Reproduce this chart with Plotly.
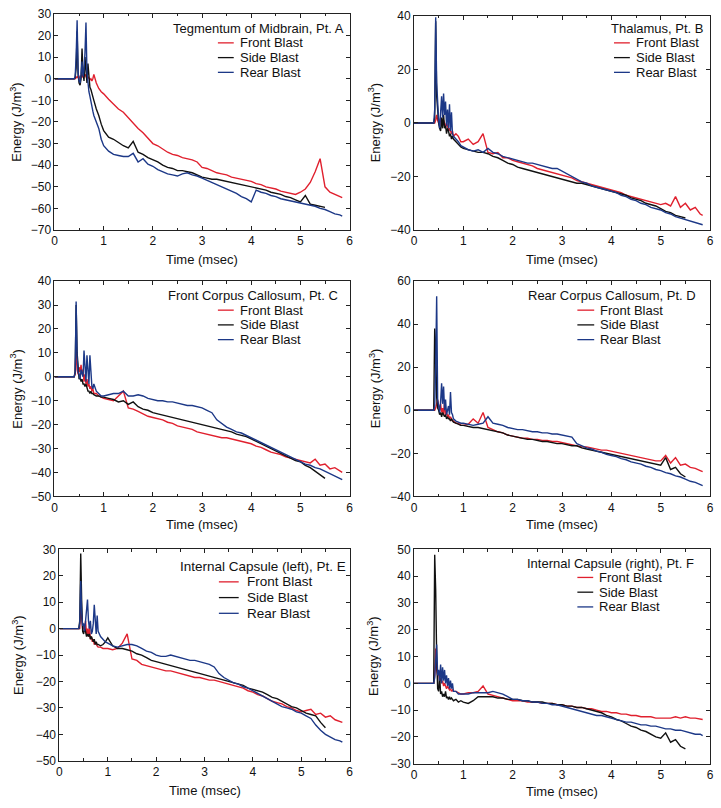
import plotly.graph_objects as go

# ---------------- data ----------------
# common time grid (msec)
T = [0, 0.40, 0.42, 0.44, 0.46, 0.48,
     0.50, 0.52, 0.54, 0.56, 0.58,
     0.60, 0.62, 0.64, 0.66, 0.68,
     0.70, 0.72, 0.74, 0.76, 0.78,
     0.80, 0.85, 0.90, 0.95,
     1.0, 1.1, 1.2, 1.3, 1.4, 1.5, 1.6, 1.7, 1.8, 1.9,
     2.0, 2.1, 2.2, 2.3, 2.4, 2.5, 2.6, 2.7, 2.8, 2.9,
     3.0, 3.1, 3.2, 3.3, 3.4, 3.5, 3.6, 3.7, 3.8, 3.9,
     4.0, 4.1, 4.2, 4.3, 4.4, 4.5, 4.6, 4.7, 4.8, 4.9,
     5.0, 5.1, 5.2, 5.3, 5.4, 5.5, 5.6, 5.7, 5.8, 5.85]

SERIES_NAMES = ["Front Blast", "Side Blast", "Rear Blast"]

PANEL_TITLES = ["Tegmentum of Midbrain, Pt. A", "Thalamus, Pt. B",
                "Front Corpus Callosum, Pt. C", "Rear Corpus Callosum, Pt. D",
                "Internal Capsule (left), Pt. E", "Internal Capsule (right), Pt. F"]

Y_RANGES = [(-70, 30), (-40, 40), (-50, 40), (-40, 60), (-50, 30), (-30, 50)]
Y_DTICKS = [10, 20, 10, 20, 10, 10]
X_TICKS = [0, 1, 2, 3, 4, 5, 6]

A_FRONT = [0, 0, 0, 0.5, 1, 0.5, 1, 0, 1.5, 2, 0.5, 1, 2, 1, 0, 1, 0.5, -0.5, 0, -1, 0, 2, -2, -4.5, -6,
           -7, -9.5, -12, -14, -15.5, -18, -21, -23, -25, -27.5,
           -30, -31, -32.5, -34, -35, -35.5, -36.5, -37, -37.5, -38.5,
           -41, -41.5, -42.5, -43.5, -44, -44.5, -45.5, -46, -46.5, -47,
           -47.5, -48.5, -49, -50, -50.5, -51, -52, -52.5, -53, -53.5,
           -52.5, -51, -48, -43, -37, -50, -52.5, -53.5, -54.5, -55]
A_SIDE = [0, 0, 0.5, 5, 22, 2, -2, -3, 0, 14, 3, -1, 10, 2, -2, 7, -1, -4, -5, -7, -9, -10, -14, -17, -21,
          -24, -27, -28, -29.5, -31, -32, -29, -34, -35, -36.5,
          -37.5, -38.5, -40, -41, -41.5, -42.5, -42.5, -43, -43.5, -44.5,
          -45.5, -46, -46.5, -46.5, -47, -47.5, -48, -48.5, -49, -49.5,
          -50, -50.5, -51, -51.5, -52.5, -53, -53.5, -54.5, -55, -56,
          -57, -54, -58, -58.5, -59, -59.5]
A_REAR = [0, 0, 1, 10, 27, 3, -1, -2, 2, 8, 1, 4, 12, 26, 3, -2, -6, -8, -11, -13, -15, -17, -20, -23, -28,
          -31, -33.5, -35, -35.5, -36, -36, -34.5, -38.5, -37, -39.5,
          -40.5, -42, -43, -44, -44.5, -45, -44, -43.5, -44.5, -45,
          -46, -47, -48, -49, -50, -51, -52, -53, -54.5, -55.5,
          -57, -51.5, -52.5, -53, -54, -54.5, -55.5, -56, -56.5, -57,
          -57.5, -58, -58.5, -59, -60, -60.5, -61.5, -62.5, -63, -63.5]

B_FRONT = [0, 0, 0, 1, 3, 1, 0, -1, 2, 0, -1, 1, 0, -2, 0, -1, -3, -2, -3, -4, -3, -5, -4, -5, -7,
           -7, -6, -8, -7, -4, -11, -11.5, -11, -13, -13,
           -14, -14.5, -15, -15.5, -16, -17, -17.5, -18, -18.5, -19,
           -19.5, -20, -20.5, -21.5, -22, -22.5, -23, -23.5, -24, -24.5,
           -25, -25.5, -26, -27, -27.5, -28, -28.5, -29, -29.5, -30,
           -30.5, -30, -31, -27.5, -31.5, -30, -32.5, -31.5, -34, -34.5]
B_SIDE = [0, 0, 2, 38, 10, 2, 0, -2, -3, 2, -2, 3, -2, -1, -4, -2, -3, -5, -4, -6, -5, -6, -7, -8, -9,
          -9.5, -10, -10.5, -11, -11, -11.5, -12.5, -13, -14, -15,
          -15.5, -16.5, -17, -17.5, -18, -18.5, -19, -19.5, -20, -20.5,
          -21, -21.5, -22, -22.5, -22.5, -23, -23.5, -24, -24.5, -25,
          -25.5, -26, -26.5, -27, -28, -28.5, -29, -30, -30.5, -31,
          -32, -33, -33.5, -34.5, -35, -35.5]
B_REAR = [0, 0, 5, 39.5, 15, 4, 1, -2, 4, 10, 2, 11, 3, 8, -1, 5, -2, 7, -3, 4, -4, -5, -6, -7, -8.5,
          -9, -10, -10.5, -10, -11, -9.5, -11, -11.5, -12.5, -13,
          -13.5, -14, -14.5, -15, -15, -15.5, -16, -16.5, -17, -17,
          -18, -19, -20, -21, -22, -22.5, -23.5, -24, -24.5, -25,
          -25.5, -26, -27, -27.5, -28.5, -29, -30, -30.5, -31.5, -32,
          -32.5, -33.5, -34, -35, -35.5, -36, -36.5, -37, -37.5, -38]

C_FRONT = [0, 0, 1, 14, 3, 1, 4, 2, 5, 1, 3, -2, 1, -3, -1, -4, -3, -5, -4, -6, -5, -7, -7, -8, -8.5,
           -9, -9.5, -10, -8, -6, -13, -13.5, -14.5, -15.5, -16.5,
           -17, -17.5, -18, -19, -19.5, -20.5, -21, -21.5, -22, -23,
           -23.5, -24, -24.5, -25, -25.5, -25.5, -26, -26.5, -27, -27.5,
           -28, -29, -29.5, -30.5, -31.5, -32, -32.5, -33.5, -34, -34.5,
           -35, -35.5, -36, -34.5, -37, -36.5, -38.5, -38, -39.5, -40]
C_SIDE = [0, 0, 2, 30, 10, 2, -1, 0, -2, -1, -3, -3, -4, -3, -5, -6, -6, -7, -6, -7, -7, -7.5, -8, -8, -8.5,
          -8.5, -9, -9.5, -10.5, -10, -11.5, -10.5, -12.5, -13.5, -14,
          -15, -15.5, -16, -16.5, -17, -17.5, -18, -18.5, -19, -19.5,
          -20, -20.5, -21, -21.5, -22, -22.5, -23, -24, -24.5, -25,
          -26, -27, -28, -29, -30, -31, -32, -33, -34, -35,
          -35.5, -37, -38, -39.5, -41, -42.5]
C_REAR = [0, 0, 2, 31.5, 8, 2, 1, -1, 3, 1, 0, 11, 2, -2, 9, 0, -3, 9, -1, -4, -5, -3, -6, -7, -8,
          -8, -7.5, -7, -7, -6, -8, -8, -7.5, -8, -9,
          -9.5, -10, -10, -10.5, -10.5, -11, -11.5, -12, -12, -12.5,
          -13, -14, -15, -18, -19.5, -21, -22, -23, -23.5, -24.5,
          -25.5, -26.5, -27.5, -28.5, -29.5, -30.5, -31.5, -32.5, -33.5, -34.5,
          -35.5, -36.5, -37, -38, -38.5, -39.5, -40.5, -41.5, -42.5, -43]

D_FRONT = [0, 0, 0, 1, 3, 5, 2, 0, 3, -1, 1, -2, 4, -2, -1, -3, -2, -4, -3, -4, -5, -5, -6, -6, -7,
           -7, -6.5, -4, -6, -1, -8, -9, -10, -10.5, -11.5,
           -12, -12.5, -13, -13, -13.5, -13.5, -14, -14, -14.5, -14.5,
           -15, -15.5, -16, -16.5, -17, -17, -17.5, -18, -18.5, -18.5,
           -19, -19.5, -20, -20.5, -21, -21.5, -22, -22.5, -23, -23.5,
           -23.5, -21, -24.5, -22, -25.5, -25, -26.5, -27, -28, -28.5]
D_SIDE = [0, 0, 38, 30, 6, 1, 0, -2, -1, -3, -1, -2, -3, -2, -4, -3, -4, -4, -5, -4, -5, -5.5, -6, -6.5, -7,
          -7, -7.5, -8, -8, -8.5, -9, -9.5, -10, -10.5, -11.5,
          -12, -12.5, -13, -13.5, -13.5, -14, -14.5, -14.5, -15, -15.5,
          -15.5, -16, -16.5, -16.5, -17.5, -18, -18.5, -19, -19.5, -20,
          -20.5, -21, -21.5, -22, -22.5, -23, -23.5, -24, -24.5, -25,
          -25.5, -22, -27.5, -26.5, -29.5, -31]
D_REAR = [0, 0, 2, 20, 53, 5, 2, -1, 4, 12.5, 3, 11, 0, 5, -2, 1, 2, -2, 8.5, -1, -2, -4, -5, -5.5, -6,
          -6, -6.5, -7, -6.5, -6, -3, -6, -6.5, -7, -8,
          -8.5, -9, -9, -9.5, -10, -10, -10.5, -10.5, -11, -11,
          -11.5, -12, -12.5, -15.5, -16.5, -17.5, -18, -19, -19.5, -20.5,
          -21, -21.5, -22.5, -23, -24, -24.5, -25, -26, -26.5, -27.5,
          -28, -29, -29.5, -30.5, -31, -32, -33, -33.5, -34.5, -35]

E_FRONT = [0, 0, 0, 8, 2, 0, 1, -1, 3, -2, 0, -3, 1, -4, -3, -5, -4, -6, -5, -6, -6.5, -7, -7, -7.5, -7.5,
           -7.5, -8, -7.5, -5.5, -2, -11.5, -12, -13.5, -14, -14.5,
           -15, -15.5, -16, -16, -16.5, -17, -17.5, -18, -18.5, -18.5,
           -19, -19.5, -19.5, -20, -20.5, -21, -21.5, -22, -22.5, -23.5,
           -24, -25, -25.5, -26.5, -27.5, -28, -28.5, -29.5, -30, -31,
           -31.5, -31, -30.5, -32.5, -32, -33.5, -33, -34.5, -35, -35.5]
E_SIDE = [0, 0, 3, 28.5, 10, -1, -2, 0, -1, -3, -2, -3, -2, -4, -3, -4, -5, -4, -6, -5, -6, -6, -6.5, -6, -5,
          -3.5, -6.5, -7.5, -7.5, -8, -8.5, -9.5, -10, -11, -12,
          -12.5, -13, -13.5, -14, -14.5, -15, -15.5, -16, -16.5, -17,
          -17.5, -18, -18.5, -19, -19.5, -20, -20.5, -21, -21.5, -22.5,
          -23, -23.5, -24, -25, -26, -26.5, -27.5, -28.5, -29.5, -30,
          -31, -32, -32.5, -33, -35.5, -37.5]
E_REAR = [0, 0, 2, 18, 6, 1, 2, -1, 3, 8, 11, 3, 0, 3, -2, -1, 2, 9, 0, -2, 5, -1, -3, -4, -5,
          -5.5, -6.5, -7, -6.5, -6, -6, -6.5, -7.5, -8.5, -9,
          -10, -10.5, -10.5, -10, -10.5, -11, -11.5, -12, -12, -12.5,
          -13, -13.5, -14.5, -17, -18.5, -19.5, -20.5, -21, -22, -22.5,
          -23.5, -24.5, -25.5, -26.5, -27.5, -28.5, -29.5, -30, -30.5, -31.5,
          -32, -33, -34, -36.5, -38.5, -40, -41, -42, -42.5, -43]

F_FRONT = [0, 0, 3, 13, 5, 3, 4, 1, 2, 0, 1, -1, 0, -1, -2, -1, -2, -2.5, -2, -3, -2.5, -3, -3, -3.5, -4,
           -4, -3.5, -3.5, -3, -1, -4, -4.5, -5, -5.5, -6,
           -6.5, -6.5, -6.5, -7, -7, -7, -7.5, -7.5, -7.5, -8,
           -8, -8.5, -8.5, -9, -9, -9.5, -9.5, -10, -10.5, -10.5,
           -11, -11, -11.5, -11.5, -12, -12, -12.5, -12.5, -12.5, -13,
           -13, -13, -13, -12.5, -13, -12.5, -13, -13, -13.5, -13.5]
F_SIDE = [0, 0, 48, 35, 10, -2, -3, 3, -4, -3, -5, -4, -5, -3, -5.5, -5, -6, -5, -6, -5.5, -6, -6.5, -6, -7, -6.5,
          -7, -7.5, -6.5, -5, -5, -5, -5, -5.5, -5.5, -6,
          -6, -6, -6.5, -6.5, -7, -7, -7, -7.5, -7.5, -8,
          -8, -8.5, -8.5, -9, -9, -9.5, -10, -10.5, -11, -12,
          -12.5, -13.5, -14, -15, -16, -16.5, -17.5, -18, -19, -20,
          -20.5, -18.5, -22, -21, -23.5, -24.5]
F_REAR = [0, 0, 2, 12, 14.5, 3, 5, 1, 7, 0, 6, 1, 5, 0, 3, -1, 2, -2, 1, -2, 0, -3, -3, -4, -4,
          -4, -4, -3.5, -3.5, -3.5, -3.5, -3, -3.5, -4, -5,
          -6, -6, -6.5, -6.5, -7, -7, -7.5, -7.5, -8, -8,
          -8.5, -9, -9.5, -10, -10.5, -11, -11.5, -12, -12, -12.5,
          -13, -13.5, -14, -14.5, -14.5, -15, -15.5, -15.5, -16, -16,
          -16.5, -17, -17, -17.5, -17.5, -18, -18.5, -19, -19, -19.5]

PANEL_DATA = [(A_FRONT, A_SIDE, A_REAR), (B_FRONT, B_SIDE, B_REAR),
              (C_FRONT, C_SIDE, C_REAR), (D_FRONT, D_SIDE, D_REAR),
              (E_FRONT, E_SIDE, E_REAR), (F_FRONT, F_SIDE, F_REAR)]

# ---------------- layout / style ----------------
W, H = 721, 808
COLORS = ["#e0202e", "#111111", "#1c3887"]
FONT = "Liberation Sans, Arial, Helvetica, sans-serif"

# plot boxes in pixels: left, right, top, bottom
BOXES = [(52, 350, 7, 227), (415, 714, 9, 227),
         (52, 350, 279, 498), (415, 714, 279, 498),
         (57, 350, 552, 767), (415, 714, 552, 770)]
# legend geometry: title right edge, title y, seg x0, seg x1, text x, row ys, font size
LEGENDS = [(345, 22, 217, 233, 238, (36.5, 51.5, 66.5), 13),
           (708, 22, 617, 633, 638, (36.5, 51.5, 66.5), 13),
           (339, 294, 217, 233, 238, (308.5, 323.5, 338.5), 13),
           (701, 294, 580, 597, 602, (308.5, 323.5, 338.5), 13),
           (347, 569, 218, 238, 245, (585, 601, 617), 13.5),
           (699, 566, 580, 596, 601, (580.5, 595.5, 610.5), 13)]
YTITLE_X = [13, 375, 13, 375, 15, 373]
XTITLE_Y = [257, 257, 527, 527, 797, 798]


def fx(px):
    return px / W


def fy(py):
    return 1 - py / H


fig = go.Figure()
annotations = []
shapes = []

for i, (data, box) in enumerate(zip(PANEL_DATA, BOXES)):
    n = i + 1
    xa = "x" if n == 1 else f"x{n}"
    ya = "y" if n == 1 else f"y{n}"
    for name, ys, col in zip(SERIES_NAMES, data, COLORS):
        fig.add_trace(go.Scatter(x=T[:len(ys)], y=ys, mode="lines", name=name,
                                 line=dict(color=col, width=1.4),
                                 xaxis=xa, yaxis=ya, showlegend=False))
    l, r, t, b = box
    axis_common = dict(showline=True, linecolor="#222", linewidth=1, mirror="allticks",
                       ticks="inside", ticklen=4, tickcolor="#222", showgrid=False,
                       zeroline=False, tickfont=dict(family=FONT, size=12, color="#111"))
    xkey = "xaxis" if n == 1 else f"xaxis{n}"
    ykey = "yaxis" if n == 1 else f"yaxis{n}"
    fig.update_layout(**{
        xkey: dict(domain=[fx(l), fx(r)], anchor=ya, range=[0, 6], tickvals=X_TICKS,
                   minor=dict(dtick=0.5, ticks="inside", ticklen=2.5, tickcolor="#222"),
                   **axis_common),
        ykey: dict(domain=[fy(b), fy(t)], anchor=xa, range=list(Y_RANGES[i]),
                   dtick=Y_DTICKS[i], tick0=0, **axis_common),
    })
    # axis titles
    annotations.append(dict(x=fx((l + r) / 2), y=fy(XTITLE_Y[i]), xref="paper", yref="paper",
                            text="Time (msec)", showarrow=False, xanchor="center", yanchor="middle",
                            font=dict(family=FONT, size=13, color="#111")))
    annotations.append(dict(x=fx(YTITLE_X[i]), y=fy((t + b) / 2), xref="paper", yref="paper",
                            text="Energy (J/m<sup>3</sup>)", textangle=-90, showarrow=False,
                            xanchor="center", yanchor="middle",
                            font=dict(family=FONT, size=13, color="#111")))
    # legend
    tr, ty, s0, s1, tx, rows, fs = LEGENDS[i]
    annotations.append(dict(x=fx(tr), y=fy(ty), xref="paper", yref="paper",
                            text=PANEL_TITLES[i], showarrow=False, xanchor="right",
                            yanchor="middle", borderpad=0,
                            font=dict(family=FONT, size=fs, color="#111")))
    for name, col, ry in zip(SERIES_NAMES, COLORS, rows):
        shapes.append(dict(type="line", xref="paper", yref="paper",
                           x0=fx(s0), x1=fx(s1), y0=fy(ry), y1=fy(ry),
                           line=dict(color=col, width=1.3)))
        annotations.append(dict(x=fx(tx), y=fy(ry), xref="paper", yref="paper",
                                text=name, showarrow=False, xanchor="left", yanchor="middle",
                                borderpad=0,
                                font=dict(family=FONT, size=fs, color="#111")))

fig.update_layout(width=W, height=H, margin=dict(l=0, r=0, t=0, b=0),
                  paper_bgcolor="white", plot_bgcolor="white",
                  annotations=annotations, shapes=shapes, showlegend=False)

fig.write_html("out.html", config={"displayModeBar": False},
               post_script="document.body.style.margin='0';document.body.style.overflow='hidden';")
